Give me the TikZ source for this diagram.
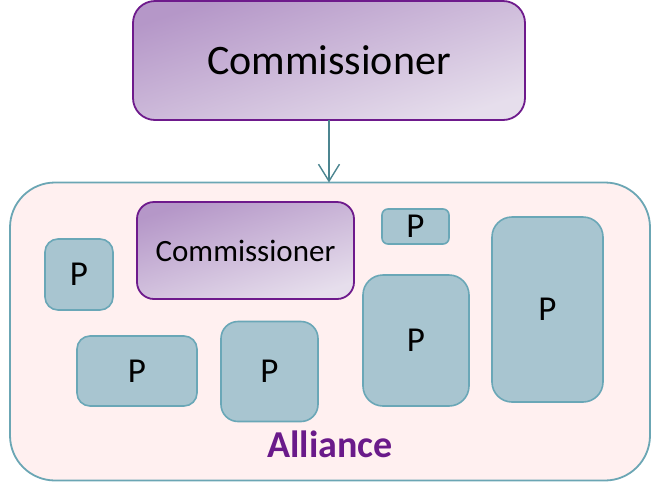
\documentclass[tikz,border=0pt]{standalone}
\usepackage{fontspec}
\setmainfont{Carlito}
\usetikzlibrary{arrows.meta}
\definecolor{commborder}{HTML}{6E1A8C}
\definecolor{commdark}{HTML}{B597C8}
\definecolor{commlight}{HTML}{E6DEEC}
\definecolor{pfill}{HTML}{A8C5D0}
\definecolor{pborder}{HTML}{6AA7B7}
\definecolor{allfill}{HTML}{FFF0F0}
\definecolor{allborder}{HTML}{6BA6B4}
\definecolor{arrowcol}{HTML}{4C8590}
\definecolor{alltext}{HTML}{6A1A8A}
\tikzset{
  comm/.style={rectangle, draw=commborder, line width=1.8pt, top color=commdark, bottom color=commlight, shading angle=18, inner sep=0pt, outer sep=0pt},
  pbox/.style={rectangle, draw=pborder, line width=1.6pt, fill=pfill, rounded corners=13pt, inner sep=0pt, outer sep=0pt, font=\fontsize{35}{37}\selectfont},
  allbox/.style={rectangle, draw=allborder, line width=1.8pt, fill=allfill, rounded corners=45pt, inner sep=0pt, outer sep=0pt}
}
\begin{document}
\begin{tikzpicture}[x=1pt,y=-1pt]
\useasboundingbox (0,0) rectangle (654,483);
\node[allbox, minimum width=640pt, minimum height=298pt] (all) at (330,331.5) {};
\node[comm, rounded corners=22pt, minimum width=392pt, minimum height=119pt, font=\fontsize{42}{44}\selectfont] (top) at (329,60.5) {Commissioner};
\draw[arrowcol, line width=1.4pt, -{Straight Barb[length=17pt,width=21pt]}] (top.south) -- (top.south |- all.north);
\node[pbox, minimum width=68pt, minimum height=71pt] (p1) at (79,274.5) {P};
\node[comm, rounded corners=17pt, minimum width=217pt, minimum height=97pt, font=\fontsize{31}{34}\selectfont] (cin) at (245.5,250.5) {Commissioner};
\node[pbox, rounded corners=6pt, minimum width=67pt, minimum height=35pt] (p2) at (415.5,226.5) {P};
\node[pbox, rounded corners=20pt, minimum width=106pt, minimum height=131pt] (p3) at (416,340.5) {P};
\node[pbox, rounded corners=20pt, minimum width=111pt, minimum height=185pt] (p4) at (547.5,309.5) {P};
\node[pbox, minimum width=120pt, minimum height=70pt] (p5) at (137,371) {P};
\node[pbox, rounded corners=17pt, minimum width=97pt, minimum height=100pt] (p6) at (269.5,371.5) {P};
\node[font=\bfseries\fontsize{38}{40}\selectfont, text=alltext, inner sep=0pt] (alabel) at (330,444) {Alliance};
\end{tikzpicture}
\end{document}
